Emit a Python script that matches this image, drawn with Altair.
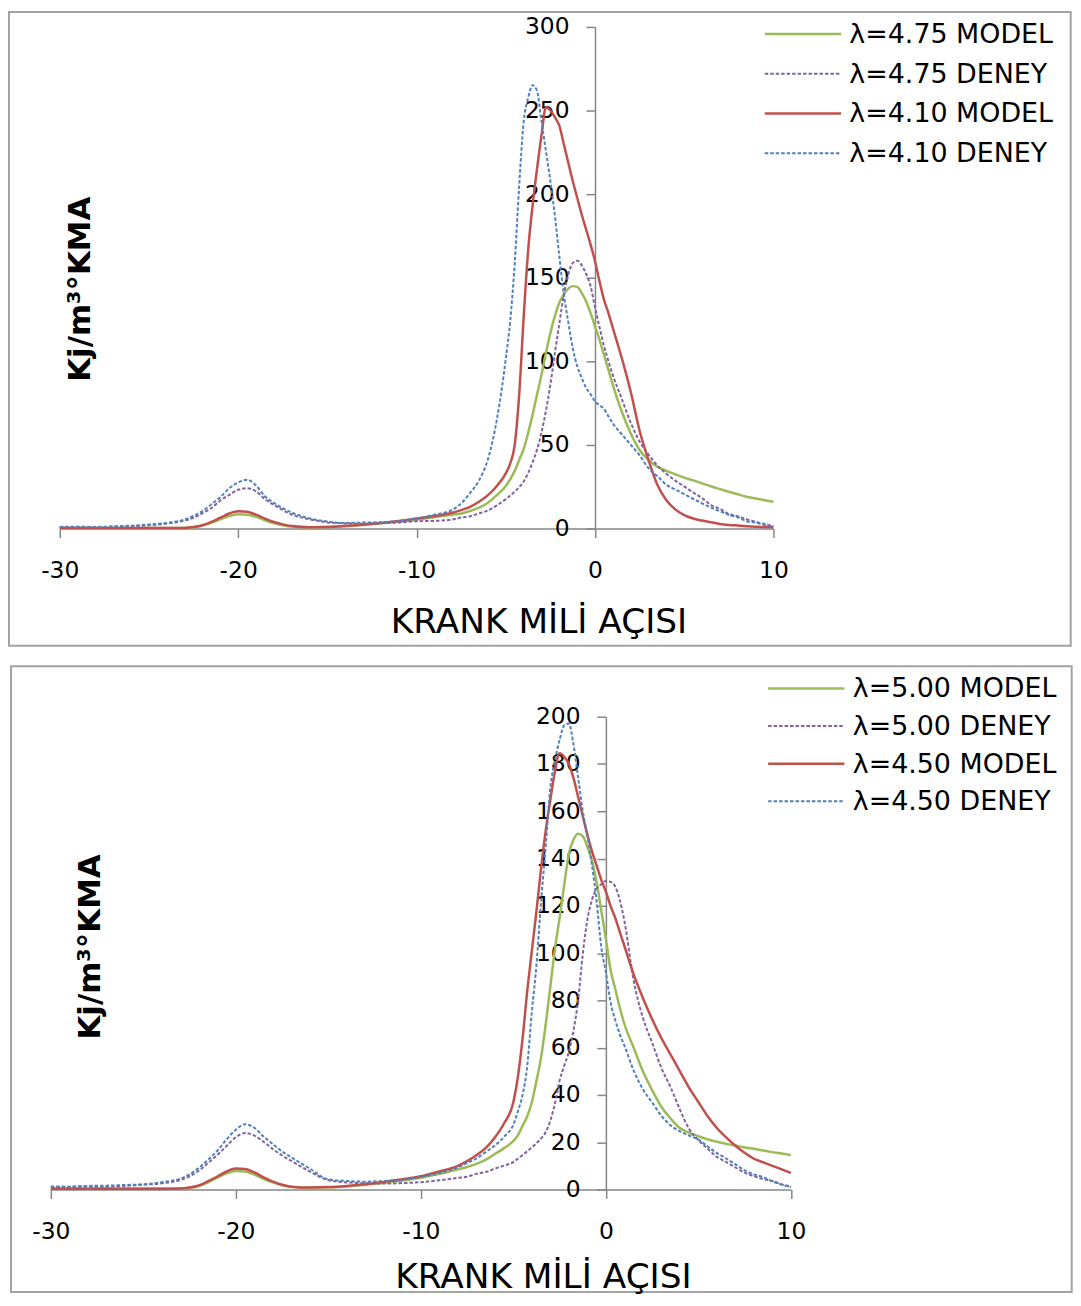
import altair as alt
import pandas as pd

# ---------------- data ----------------
crank_angle = [-30, -29, -28, -27, -26, -25, -24, -23,
               -22.5, -22, -21.5, -21, -20.5, -20, -19.5, -19, -18.5, -18, -17.5, -17,
               -16, -15, -14, -13, -12, -11, -10, -9, -8,
               -7.5, -7, -6.5, -6, -5.5, -5,
               -4.75, -4.5, -4.25, -4, -3.75, -3.5, -3.25, -3, -2.75, -2.5, -2.25, -2,
               -1.75, -1.5, -1.25, -1, -0.75, -0.5, -0.25, 0, 0.25, 0.5, 0.75, 1,
               1.5, 2, 2.5, 3, 3.5, 4, 4.5, 5, 5.5, 6, 6.5, 7, 7.5, 8, 8.5, 9, 9.5, 10]

x_ticks = [-30, -20, -10, 0, 10]
top_y_ticks = [0, 50, 100, 150, 200, 250, 300]
bottom_y_ticks = [0, 20, 40, 60, 80, 100, 120, 140, 160, 180, 200]

top_labels = ["λ=4.75 MODEL", "λ=4.75 DENEY", "λ=4.10 MODEL", "λ=4.10 DENEY"]
bottom_labels = ["λ=5.00 MODEL", "λ=5.00 DENEY", "λ=4.50 MODEL", "λ=4.50 DENEY"]

top_l475_model = [0.3, 0.3, 0.3, 0.3, 0.3, 0.3, 0.3, 0.4,
                  0.8, 1.8, 3.5, 5.5, 7.5, 8.5, 8.3, 7.0, 5.0, 3.2, 2.0, 1.2,
                  0.8, 1.0, 1.5, 2.3, 3.2, 4.2, 5.3, 6.8, 8.3,
                  9.0, 10.5, 12.5, 15.5, 20.0, 25.5,
                  29.5, 34.5, 41, 47.5, 57, 68, 80, 92, 105, 117, 127, 135,
                  140, 143.5, 145, 144.5, 141, 136, 129, 121, 113, 104, 95, 86,
                  70, 57, 47, 41, 37, 34.5, 32.5, 30.5, 28.8, 27, 25.3, 23.6, 22, 20.5, 19, 18, 17, 16]

top_l475_deney = [0.8, 0.9, 0.8, 1.1, 1.4, 2.0, 3.0, 4.8,
                  6.5, 9.2, 12.3, 16.8, 20.1, 23.2, 24.1, 22.3, 17.6, 14.2, 11.1, 8.4,
                  5.6, 3.7, 3.1, 2.9, 3.3, 3.6, 4.4, 4.6, 5.4,
                  6.6, 7.4, 9.1, 10.8, 13.9, 17.6,
                  19.8, 22.1, 24.8, 28.2, 33.1, 39.6, 47.2, 57.5, 70.4, 86.2, 104.8, 122.5,
                  139.6, 151.8, 158.7, 160.2, 157.6, 152.3, 145.1, 132.4, 120.6, 109.5, 100.2, 91.8,
                  77.6, 63.4, 52.1, 44.3, 37.6, 32.8, 28.7, 25.2, 21.6, 18.3, 14.1, 11.8, 8.7, 7.4, 5.6, 4.1, 2.7, 1.6]

top_l410_model = [0.3, 0.3, 0.3, 0.3, 0.3, 0.3, 0.3, 0.4,
                  0.9, 2.0, 4.0, 6.5, 9.0, 10.3, 10.0, 8.3, 6.0, 4.0, 2.5, 1.5,
                  0.8, 0.9, 1.5, 2.3, 3.3, 4.5, 6.0, 7.5, 9.5,
                  11, 13, 16, 20, 25.5, 33,
                  39, 50, 80, 126, 166, 193, 215, 235, 252, 250, 246, 241,
                  230, 219, 208, 198, 188, 179, 170, 160, 148, 137, 129, 120,
                  102, 82, 58.5, 41, 26, 17, 11.5, 8, 6, 4.8, 3.8, 2.8, 2.2, 1.8, 1.4, 1.1, 0.9, 0.8]

top_l410_deney = [1.0, 1.1, 1.0, 1.3, 1.7, 2.4, 3.4, 5.4,
                  7.6, 10.4, 14.6, 18.8, 24.1, 27.6, 29.2, 25.8, 19.3, 15.4, 12.2, 9.6,
                  6.1, 4.2, 3.4, 3.6, 3.8, 4.6, 6.1, 8.3, 11.2,
                  15.1, 21.3, 28.8, 41.5, 65.2, 101.5,
                  124.3, 158.6, 204.8, 243.1, 257.4, 265.2, 261.8, 243.5, 225.9, 207.6, 187.3, 162.8,
                  140.4, 123.6, 108.2, 97.1, 90.3, 84.2, 80.4, 76.1, 73.8, 71.6, 67.2, 62.9,
                  56.4, 50.2, 43.8, 36.1, 31.3, 26.2, 23.4, 20.6, 17.8, 15.1, 12.6, 10.4, 8.2, 6.8, 4.4, 3.6, 2.3, 1.4]

bot_l500_model = [0.3, 0.3, 0.3, 0.3, 0.3, 0.3, 0.3, 0.4,
                  0.7, 1.5, 3.0, 5.0, 6.8, 7.8, 7.6, 6.3, 4.5, 3.0, 1.8, 1.1,
                  0.7, 0.9, 1.3, 2.0, 2.8, 3.8, 5.0, 6.6, 8.5,
                  9.5, 10.8, 12.5, 15.0, 17.5, 20.5,
                  23, 27, 31, 37, 46, 56, 70, 86, 102, 115, 129, 142,
                  148, 150.5, 149.5, 145, 139, 130, 118, 106, 93, 85, 77, 70,
                  60, 50, 42, 35, 30, 26, 24, 22.5, 21.2, 20.2, 19.3, 18.6, 17.8, 17.2, 16.5, 15.8, 15.2, 14.6]

bot_l500_deney = [1.0, 1.1, 1.2, 1.2, 1.5, 2.0, 2.6, 4.0,
                  5.6, 7.9, 11.2, 14.6, 18.4, 22.1, 23.9, 22.8, 20.2, 17.1, 14.4, 12.1,
                  7.6, 3.9, 3.0, 2.6, 2.5, 2.7, 3.1, 3.9, 4.9,
                  5.4, 6.6, 7.4, 8.8, 10.1, 11.6,
                  13.1, 14.6, 16.2, 17.8, 19.6, 21.6, 24.3, 29.2, 36.5, 46.1, 52.4, 58.2,
                  67.3, 80.1, 99.5, 114.2, 122.6, 127.3, 129.1, 130.5, 130.1, 128.2, 122.4, 113.6,
                  88.4, 72.6, 62.1, 51.4, 43.2, 33.8, 25.6, 20.9, 17.2, 13.8, 11.6, 9.3, 7.1, 5.6, 4.4, 3.6, 2.1, 1.2]

bot_l450_model = [0.3, 0.3, 0.3, 0.3, 0.3, 0.3, 0.3, 0.4,
                  0.8, 1.7, 3.5, 5.5, 7.6, 8.9, 8.7, 7.2, 5.1, 3.3, 2.0, 1.2,
                  0.8, 1.0, 1.5, 2.2, 3.2, 4.3, 5.6, 7.6, 10.0,
                  12, 14.5, 17.5, 22, 28, 37,
                  48, 64, 84, 101, 118, 136, 152, 165, 177, 184.5, 183, 180,
                  174, 166, 158, 150, 143, 137, 131, 126, 120, 115, 109, 103,
                  91, 81, 72, 64, 57, 50, 43, 37, 31, 26, 22, 18.5, 15.5, 13, 11.5, 10, 8.5, 7]

bot_l450_deney = [1.3, 1.2, 1.5, 1.6, 1.9, 2.2, 3.1, 4.6,
                  6.4, 9.1, 12.6, 16.4, 21.2, 25.3, 27.6, 26.1, 22.4, 19.2, 16.1, 13.6,
                  8.8, 4.3, 3.6, 3.3, 3.6, 4.1, 5.3, 6.9, 9.4,
                  11.2, 13.1, 15.8, 18.6, 22.3, 27.4,
                  33.2, 40.1, 52.3, 75.4, 95.2, 122.1, 145.3, 170.2, 181.6, 190.3, 196.4, 197.1,
                  188.2, 174.3, 160.1, 149.6, 137.2, 121.8, 102.6, 91.9, 79.3, 71.8, 65.7, 60.9,
                  50.3, 42.4, 36.8, 31.2, 27.1, 24.6, 22.8, 21.1, 18.2, 15.4, 13.1, 10.6, 8.1, 6.4, 5.2, 3.4, 2.1, 1.0]

# ---------------- styling ----------------
SERIES_COLORS = ["#9BBB59", "#8064A2", "#C0504D", "#4F81BD"]
SERIES_DASHED = [False, True, False, True]
FONT = "DejaVu Sans"
AXIS_GRAY = "#868686"
FRAME_GRAY = "#a3a3a3"
DASH = [3.5, 2]
MODEL_W = 2.5
DENEY_W = 2.0

one = pd.DataFrame({"k": [0]})


def make_panel(values, labels, y_ticks, x_start, plot_w, plot_h,
               frame, legend, ytitle_xy, xtitle_xy):
    x_lo, x_hi = x_ticks[0], x_ticks[-1]
    x_end = x_start + plot_w
    zero_px = x_start + (0 - x_lo) / (x_hi - x_lo) * plot_w

    xscale = alt.Scale(domain=[x_lo, x_hi], range=[x_start, x_end], nice=False, zero=False)
    yscale = alt.Scale(domain=[0, y_ticks[-1]], nice=False, zero=True)

    common = dict(title=None, grid=False, domainColor=AXIS_GRAY, domainWidth=1.5,
                  tickColor=AXIS_GRAY, tickWidth=1.5, tickSize=9,
                  labelFont=FONT, labelFontSize=23.5, labelColor="#000000",
                  labelOverlap=False, labelExpr="'' + datum.value")
    x_axis = alt.Axis(values=x_ticks, labelPadding=21, labelFlush=False, **common)
    y_axis = alt.Axis(values=y_ticks, labelPadding=17, offset=-zero_px, **common)

    layers = []
    fx1, fx2, fy1, fy2 = frame
    layers.append(
        alt.Chart(one).mark_rect(filled=False, stroke=FRAME_GRAY, strokeWidth=2).encode(
            x=alt.value(fx1), x2=alt.value(fx2), y=alt.value(fy1), y2=alt.value(fy2))
    )

    for vals, col, dashed in zip(values, SERIES_COLORS, SERIES_DASHED):
        df = pd.DataFrame({"angle": crank_angle, "value": vals})
        kw = dict(color=col, strokeWidth=DENEY_W if dashed else MODEL_W,
                  clip=False, interpolate="monotone")
        if dashed:
            kw["strokeDash"] = DASH
        layers.append(
            alt.Chart(df).mark_line(**kw).encode(
                x=alt.X("angle:Q", scale=xscale, axis=x_axis),
                y=alt.Y("value:Q", scale=yscale, axis=y_axis))
        )

    sx1, sx2, lx, ly0, ldy = legend
    for i, (lab, col, dashed) in enumerate(zip(labels, SERIES_COLORS, SERIES_DASHED)):
        ly = ly0 + i * ldy
        rkw = dict(color=col, strokeWidth=DENEY_W if dashed else MODEL_W)
        if dashed:
            rkw["strokeDash"] = DASH
        layers.append(
            alt.Chart(one).mark_rule(**rkw).encode(
                x=alt.value(sx1), x2=alt.value(sx2), y=alt.value(ly))
        )
        layers.append(
            alt.Chart(one).mark_text(text=lab, align="left", baseline="middle", font=FONT,
                                     fontSize=27, color="#000000").encode(
                x=alt.value(lx), y=alt.value(ly + 1))
        )

    layers.append(
        alt.Chart(one).mark_text(text="Kj/m³°KMA", angle=270, align="center",
                                 baseline="alphabetic", font=FONT, fontSize=31,
                                 fontWeight="bold", color="#000000").encode(
            x=alt.value(ytitle_xy[0]), y=alt.value(ytitle_xy[1]))
    )
    layers.append(
        alt.Chart(one).mark_text(text="KRANK MİLİ AÇISI", align="center",
                                 baseline="alphabetic", font=FONT, fontSize=34.5,
                                 color="#000000").encode(
            x=alt.value(xtitle_xy[0]), y=alt.value(xtitle_xy[1]))
    )

    return alt.layer(*layers).properties(width=int(round(x_end)), height=plot_h)


top = make_panel(
    [top_l475_model, top_l475_deney, top_l410_model, top_l410_deney], top_labels, top_y_ticks,
    x_start=0, plot_w=717, plot_h=504,
    frame=(-51, 1015.7, -15, 621.7),
    legend=(708.3, 785, 793.3, 7, 40),
    ytitle_xy=(30, 263.5), xtitle_xy=(481.5, 609))

bottom = make_panel(
    [bot_l500_model, bot_l500_deney, bot_l450_model, bot_l450_deney], bottom_labels, bottom_y_ticks,
    x_start=-9, plot_w=743.6, plot_h=475,
    frame=(-49, 1016.7, -50.7, 578),
    legend=(711.7, 788.3, 796.7, -28.4, 37.8),
    ytitle_xy=(40, 231.3), xtitle_xy=(486, 573.5))

chart = alt.vconcat(top, bottom, spacing=18).properties(
    padding={"left": 0, "top": 0, "right": 0, "bottom": 0}
).configure_view(stroke=None)

chart.save("out.html", embed_options={"renderer": "svg", "actions": False})
